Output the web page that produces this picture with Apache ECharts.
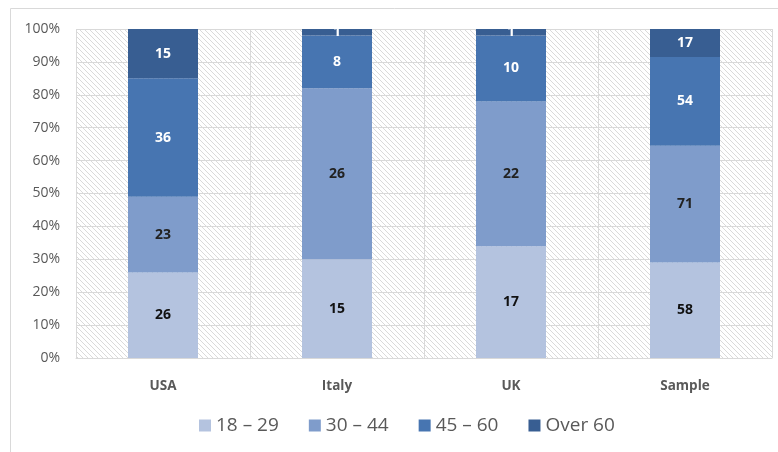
<!DOCTYPE html>
<html><head><meta charset="utf-8">
<script src="https://cdn.jsdelivr.net/npm/echarts@6/dist/echarts.min.js"></script>
<style>html,body{margin:0;padding:0;background:#fff}#c{width:778px;height:452px}</style>
</head><body><div id="c"></div>
<script>
var categories = ['USA', 'Italy', 'UK', 'Sample'];
var seriesNames = ['18 – 29', '30 – 44', '45 – 60', 'Over 60'];
var age18_29 = [26, 15, 17, 58];
var age30_44 = [23, 26, 22, 71];
var age45_60 = [36, 8, 10, 54];
var ageOver60 = [15, 1, 1, 17];
var yTicks = ['0%','10%','20%','30%','40%','50%','60%','70%','80%','90%','100%'];

var counts = [age18_29, age30_44, age45_60, ageOver60];
var totals = categories.map(function(_, i){ return counts.reduce(function(s, a){ return s + a[i]; }, 0); });
var colors = ['#b4c3df', '#7f9ccb', '#4775b1', '#385e92'];
var labelColors = ['#111', '#222', '#fff', '#fff'];

var pc = document.createElement('canvas');
pc.width = 5; pc.height = 5;
var g = pc.getContext('2d');
g.fillStyle = '#fff'; g.fillRect(0,0,5,5);
g.strokeStyle = '#dadada'; g.lineWidth = 1;
g.beginPath();
g.moveTo(-1,-1); g.lineTo(6,6);
g.moveTo(-4,1); g.lineTo(4,9);
g.moveTo(1,-4); g.lineTo(9,4);
g.stroke();

var chart = echarts.init(document.getElementById('c'));
chart.setOption({
  animation: false,
  graphic: [{type:'rect', shape:{x:10.5, y:8.5, width:800, height:500}, style:{fill:'none', stroke:'#d9d9d9', lineWidth:1}}],
  grid: {left:76, right:6, top:29, bottom:94, show:true, borderWidth:0, backgroundColor:{image:pc, repeat:'repeat'}},
  legend: {
    bottom: 12, left: 194, itemWidth: 12, itemHeight: 12, itemGap: 30,
    icon: 'rect',
    textStyle: {color:'#595959', fontSize:19, fontFamily:'Open Sans'},
    data: seriesNames
  },
  xAxis: {
    type:'category', data: categories,
    axisLine:{lineStyle:{color:'#d9d9d9'}}, axisTick:{show:false},
    splitLine:{show:true, lineStyle:{color:'#d9d9d9'}},
    axisLabel:{color:'#595959', fontSize:13.5, fontWeight:'bold', fontFamily:'Open Sans', margin:21}
  },
  yAxis: {
    type:'value', min:0, max:100, interval:10,
    axisLine:{show:false}, axisTick:{show:false},
    splitLine:{lineStyle:{color:'#d9d9d9'}},
    axisLabel:{color:'#595959', fontSize:14, fontFamily:'Open Sans', margin:16, formatter:function(v){ return yTicks[Math.round(v/10)]; }}
  },
  series: counts.map(function(arr, k){
    return {
      name: seriesNames[k], type:'bar', stack:'total', barWidth:70,
      itemStyle:{color:colors[k]},
      label:{show:true, position:'inside', color:labelColors[k], fontSize:14, fontWeight:'bold', fontFamily:'Open Sans',
        formatter:function(p){ return arr[p.dataIndex]; }},
      data: arr.map(function(v, i){ return v / totals[i] * 100; })
    };
  })
});
</script></body></html>
